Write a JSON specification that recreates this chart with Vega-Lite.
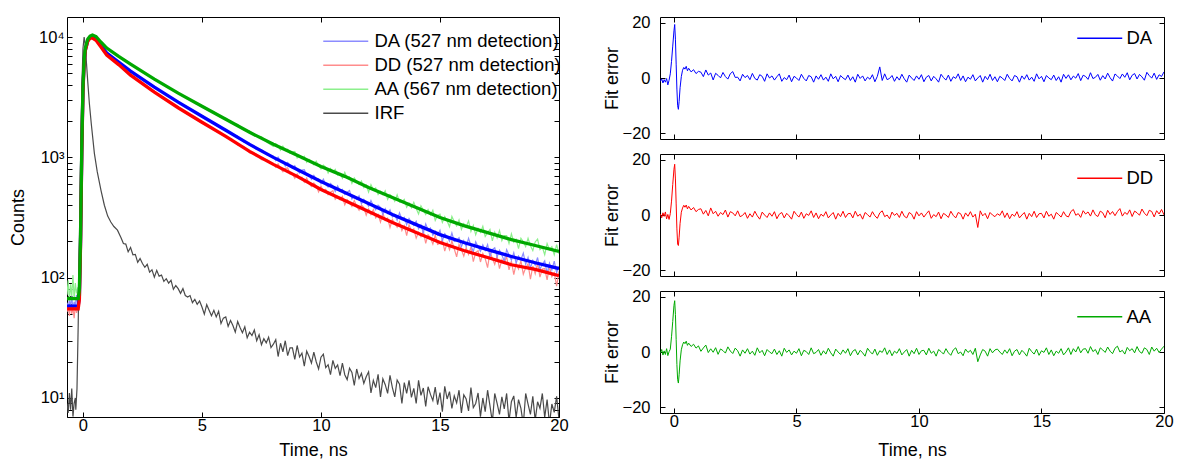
{
"$schema":"https://vega.github.io/schema/vega-lite/v6.json",
"background":"white",
"padding":{"left":8,"top":14,"right":0,"bottom":0},
"config":{
"font":"Liberation Sans",
"view":{"stroke":"#000000","strokeWidth":1},
"axis":{"domain":false,"grid":false,"tickColor":"#000","tickSize":-5,"tickWidth":1,"labelColor":"#000","labelFontSize":16.5,"titleColor":"#000","titleFontSize":18,"titleFontWeight":"normal","labelFlush":false,"labelOverlap":false},
"legend":{"title":null,"symbolType":"M-8,0H1","symbolSize":100,"symbolStrokeWidth":1.5,"labelFontSize":18.5,"labelColor":"#000","labelLimit":0,"rowPadding":5,"padding":0,"orient":"none"}
},
"datasets":{
"fit":[
{"s":"DA","t":-0.67,"v":58},{"s":"DA","t":-0.2,"v":58},{"s":"DA","t":-0.15,"v":70},{"s":"DA","t":-0.1,"v":200},{"s":"DA","t":-0.05,"v":1100},{"s":"DA","t":0,"v":3600},{"s":"DA","t":0.05,"v":6200},{"s":"DA","t":0.1,"v":7800},{"s":"DA","t":0.2,"v":9300},{"s":"DA","t":0.3,"v":9900},{"s":"DA","t":0.4,"v":10000},{"s":"DA","t":0.55,"v":9600},{"s":"DA","t":0.75,"v":8500},{"s":"DA","t":1,"v":7356},{"s":"DA","t":1.5,"v":6200},{"s":"DA","t":2,"v":5210},{"s":"DA","t":3,"v":3831},{"s":"DA","t":4,"v":2873},{"s":"DA","t":5,"v":2196},{"s":"DA","t":6,"v":1679},{"s":"DA","t":7,"v":1283},{"s":"DA","t":8,"v":1000},{"s":"DA","t":9,"v":794},{"s":"DA","t":10,"v":631},{"s":"DA","t":11,"v":511},{"s":"DA","t":12,"v":414},{"s":"DA","t":13,"v":335},{"s":"DA","t":14,"v":276},{"s":"DA","t":15,"v":228},{"s":"DA","t":16,"v":196},{"s":"DA","t":17,"v":171},{"s":"DA","t":18,"v":150},{"s":"DA","t":19,"v":133},{"s":"DA","t":20,"v":119},
{"s":"DD","t":-0.67,"v":55},{"s":"DD","t":-0.2,"v":55},{"s":"DD","t":-0.15,"v":66},{"s":"DD","t":-0.1,"v":190},{"s":"DD","t":-0.05,"v":1050},{"s":"DD","t":0,"v":3500},{"s":"DD","t":0.05,"v":6100},{"s":"DD","t":0.1,"v":7700},{"s":"DD","t":0.2,"v":9200},{"s":"DD","t":0.3,"v":9800},{"s":"DD","t":0.4,"v":9810},{"s":"DD","t":0.55,"v":9400},{"s":"DD","t":0.75,"v":8300},{"s":"DD","t":1,"v":7079},{"s":"DD","t":1.5,"v":5900},{"s":"DD","t":2,"v":4825},{"s":"DD","t":3,"v":3481},{"s":"DD","t":4,"v":2585},{"s":"DD","t":5,"v":1957},{"s":"DD","t":6,"v":1496},{"s":"DD","t":7,"v":1122},{"s":"DD","t":8,"v":874},{"s":"DD","t":9,"v":695},{"s":"DD","t":10,"v":541},{"s":"DD","t":11,"v":438},{"s":"DD","t":12,"v":355},{"s":"DD","t":13,"v":287},{"s":"DD","t":14,"v":237},{"s":"DD","t":15,"v":196},{"s":"DD","t":16,"v":168},{"s":"DD","t":17,"v":147},{"s":"DD","t":18,"v":128},{"s":"DD","t":19,"v":117},{"s":"DD","t":20,"v":104},
{"s":"AA","t":-0.67,"v":67},{"s":"AA","t":-0.2,"v":67},{"s":"AA","t":-0.15,"v":80},{"s":"AA","t":-0.1,"v":230},{"s":"AA","t":-0.05,"v":1200},{"s":"AA","t":0,"v":3800},{"s":"AA","t":0.05,"v":6500},{"s":"AA","t":0.1,"v":8100},{"s":"AA","t":0.2,"v":9600},{"s":"AA","t":0.3,"v":10200},{"s":"AA","t":0.4,"v":10390},{"s":"AA","t":0.55,"v":10100},{"s":"AA","t":0.75,"v":9100},{"s":"AA","t":1,"v":8095},{"s":"AA","t":1.5,"v":6900},{"s":"AA","t":2,"v":5957},{"s":"AA","t":3,"v":4467},{"s":"AA","t":4,"v":3415},{"s":"AA","t":5,"v":2661},{"s":"AA","t":6,"v":2073},{"s":"AA","t":7,"v":1616},{"s":"AA","t":8,"v":1283},{"s":"AA","t":9,"v":1039},{"s":"AA","t":10,"v":841},{"s":"AA","t":11,"v":695},{"s":"AA","t":12,"v":562},{"s":"AA","t":13,"v":464},{"s":"AA","t":14,"v":383},{"s":"AA","t":15,"v":316},{"s":"AA","t":16,"v":271},{"s":"AA","t":17,"v":237},{"s":"AA","t":18,"v":207},{"s":"AA","t":19,"v":185},{"s":"AA","t":20,"v":165}
],
"raw":[
{"s":"DD","t":-0.67,"v":52},{"s":"DD","t":-0.62,"v":58},{"s":"DD","t":-0.57,"v":48},{"s":"DD","t":-0.52,"v":60},{"s":"DD","t":-0.47,"v":50},{"s":"DD","t":-0.42,"v":56},{"s":"DD","t":-0.37,"v":46},{"s":"DD","t":-0.32,"v":59},{"s":"DD","t":-0.27,"v":51},{"s":"DD","t":-0.22,"v":55},
{"s":"DD","t":-0.15,"v":66},{"s":"DD","t":-0.1,"v":190},{"s":"DD","t":-0.05,"v":1050},{"s":"DD","t":0,"v":3500},{"s":"DD","t":0.05,"v":6100},{"s":"DD","t":0.1,"v":7700},{"s":"DD","t":0.2,"v":9200},{"s":"DD","t":0.3,"v":9800},{"s":"DD","t":0.4,"v":9810},{"s":"DD","t":0.55,"v":9400},{"s":"DD","t":0.75,"v":8300},{"s":"DD","t":1,"v":7079},{"s":"DD","t":1.5,"v":5900},{"s":"DD","t":2,"v":4825},{"s":"DD","t":3,"v":3481},{"s":"DD","t":4,"v":2585},
{"s":"DD","t":5,"v":1920},{"s":"DD","t":5.25,"v":1860},{"s":"DD","t":5.5,"v":1680},{"s":"DD","t":5.75,"v":1625},{"s":"DD","t":6,"v":1460},{"s":"DD","t":6.25,"v":1420},{"s":"DD","t":6.5,"v":1265},{"s":"DD","t":6.75,"v":1230},{"s":"DD","t":7,"v":1090},{"s":"DD","t":7.25,"v":1075},{"s":"DD","t":7.5,"v":955},{"s":"DD","t":7.75,"v":950},
{"s":"DD","t":8,"v":880},{"s":"DD","t":8.1,"v":828},{"s":"DD","t":8.2,"v":882},{"s":"DD","t":8.3,"v":809},{"s":"DD","t":8.4,"v":760},{"s":"DD","t":8.5,"v":811},{"s":"DD","t":8.6,"v":817},{"s":"DD","t":8.7,"v":730},{"s":"DD","t":8.8,"v":731},{"s":"DD","t":8.9,"v":671},
{"s":"DD","t":9,"v":729},{"s":"DD","t":9.1,"v":675},{"s":"DD","t":9.2,"v":683},{"s":"DD","t":9.3,"v":622},{"s":"DD","t":9.4,"v":673},{"s":"DD","t":9.5,"v":605},{"s":"DD","t":9.6,"v":573},{"s":"DD","t":9.7,"v":612},{"s":"DD","t":9.8,"v":580},{"s":"DD","t":9.9,"v":517},
{"s":"DD","t":10,"v":576},{"s":"DD","t":10.1,"v":523},{"s":"DD","t":10.2,"v":541},{"s":"DD","t":10.3,"v":490},{"s":"DD","t":10.4,"v":512},{"s":"DD","t":10.5,"v":529},{"s":"DD","t":10.6,"v":448},{"s":"DD","t":10.7,"v":473},{"s":"DD","t":10.8,"v":444},{"s":"DD","t":10.9,"v":473},
{"s":"DD","t":11,"v":403},{"s":"DD","t":11.1,"v":445},{"s":"DD","t":11.2,"v":421},{"s":"DD","t":11.3,"v":391},{"s":"DD","t":11.4,"v":438},{"s":"DD","t":11.5,"v":393},{"s":"DD","t":11.6,"v":364},{"s":"DD","t":11.7,"v":401},{"s":"DD","t":11.8,"v":382},{"s":"DD","t":11.9,"v":330},
{"s":"DD","t":12,"v":372},{"s":"DD","t":12.1,"v":335},{"s":"DD","t":12.2,"v":367},{"s":"DD","t":12.3,"v":314},{"s":"DD","t":12.4,"v":334},{"s":"DD","t":12.5,"v":289},{"s":"DD","t":12.6,"v":344},{"s":"DD","t":12.7,"v":299},{"s":"DD","t":12.8,"v":312},{"s":"DD","t":12.9,"v":261},
{"s":"DD","t":13,"v":304},{"s":"DD","t":13.1,"v":282},{"s":"DD","t":13.2,"v":263},{"s":"DD","t":13.3,"v":291},{"s":"DD","t":13.4,"v":246},{"s":"DD","t":13.5,"v":270},{"s":"DD","t":13.6,"v":224},{"s":"DD","t":13.7,"v":275},{"s":"DD","t":13.8,"v":244},{"s":"DD","t":13.9,"v":254},
{"s":"DD","t":14,"v":213},{"s":"DD","t":14.1,"v":238},{"s":"DD","t":14.2,"v":219},{"s":"DD","t":14.3,"v":245},{"s":"DD","t":14.4,"v":193},{"s":"DD","t":14.5,"v":227},{"s":"DD","t":14.6,"v":214},{"s":"DD","t":14.7,"v":190},{"s":"DD","t":14.8,"v":226},{"s":"DD","t":14.9,"v":189},
{"s":"DD","t":15,"v":193},{"s":"DD","t":15.1,"v":207},{"s":"DD","t":15.2,"v":166},{"s":"DD","t":15.3,"v":195},{"s":"DD","t":15.4,"v":171},{"s":"DD","t":15.5,"v":202},{"s":"DD","t":15.6,"v":173},{"s":"DD","t":15.7,"v":149},{"s":"DD","t":15.8,"v":189},{"s":"DD","t":15.9,"v":171},
{"s":"DD","t":16,"v":151},{"s":"DD","t":16.1,"v":177},{"s":"DD","t":16.2,"v":156},{"s":"DD","t":16.3,"v":179},{"s":"DD","t":16.4,"v":136},{"s":"DD","t":16.5,"v":162},{"s":"DD","t":16.6,"v":167},{"s":"DD","t":16.7,"v":135},{"s":"DD","t":16.8,"v":159},{"s":"DD","t":16.9,"v":144},
{"s":"DD","t":17,"v":121},{"s":"DD","t":17.1,"v":163},{"s":"DD","t":17.2,"v":145},{"s":"DD","t":17.3,"v":129},{"s":"DD","t":17.4,"v":152},{"s":"DD","t":17.5,"v":119},{"s":"DD","t":17.6,"v":141},{"s":"DD","t":17.7,"v":132},{"s":"DD","t":17.8,"v":150},{"s":"DD","t":17.9,"v":116},
{"s":"DD","t":18,"v":137},{"s":"DD","t":18.1,"v":106},{"s":"DD","t":18.2,"v":130},{"s":"DD","t":18.3,"v":118},{"s":"DD","t":18.4,"v":138},{"s":"DD","t":18.5,"v":107},{"s":"DD","t":18.6,"v":121},{"s":"DD","t":18.7,"v":130},{"s":"DD","t":18.8,"v":97},{"s":"DD","t":18.9,"v":125},
{"s":"DD","t":19,"v":108},{"s":"DD","t":19.1,"v":132},{"s":"DD","t":19.2,"v":101},{"s":"DD","t":19.3,"v":118},{"s":"DD","t":19.4,"v":119},{"s":"DD","t":19.5,"v":96},{"s":"DD","t":19.6,"v":124},{"s":"DD","t":19.7,"v":102},{"s":"DD","t":19.8,"v":110},{"s":"DD","t":19.9,"v":85},{"s":"DD","t":20,"v":113},
{"s":"DA","t":-0.67,"v":62},{"s":"DA","t":-0.62,"v":55},{"s":"DA","t":-0.57,"v":66},{"s":"DA","t":-0.52,"v":57},{"s":"DA","t":-0.47,"v":70},{"s":"DA","t":-0.42,"v":54},{"s":"DA","t":-0.37,"v":63},{"s":"DA","t":-0.32,"v":59},{"s":"DA","t":-0.27,"v":72},{"s":"DA","t":-0.22,"v":56},
{"s":"DA","t":-0.15,"v":70},{"s":"DA","t":-0.1,"v":200},{"s":"DA","t":-0.05,"v":1100},{"s":"DA","t":0,"v":3600},{"s":"DA","t":0.05,"v":6200},{"s":"DA","t":0.1,"v":7800},{"s":"DA","t":0.2,"v":9300},{"s":"DA","t":0.3,"v":9900},{"s":"DA","t":0.4,"v":10000},{"s":"DA","t":0.55,"v":9600},{"s":"DA","t":0.75,"v":8500},{"s":"DA","t":1,"v":7356},{"s":"DA","t":1.5,"v":6200},{"s":"DA","t":2,"v":5210},{"s":"DA","t":3,"v":3831},{"s":"DA","t":4,"v":2873},
{"s":"DA","t":5,"v":2230},{"s":"DA","t":5.25,"v":2040},{"s":"DA","t":5.5,"v":1950},{"s":"DA","t":5.75,"v":1770},{"s":"DA","t":6,"v":1710},{"s":"DA","t":6.25,"v":1550},{"s":"DA","t":6.5,"v":1500},{"s":"DA","t":6.75,"v":1345},{"s":"DA","t":7,"v":1310},{"s":"DA","t":7.25,"v":1180},{"s":"DA","t":7.5,"v":1160},{"s":"DA","t":7.75,"v":1040},
{"s":"DA","t":8,"v":1022},{"s":"DA","t":8.1,"v":941},{"s":"DA","t":8.2,"v":1006},{"s":"DA","t":8.3,"v":923},{"s":"DA","t":8.4,"v":928},{"s":"DA","t":8.5,"v":848},{"s":"DA","t":8.6,"v":905},{"s":"DA","t":8.7,"v":861},{"s":"DA","t":8.8,"v":812},{"s":"DA","t":8.9,"v":851},
{"s":"DA","t":9,"v":784},{"s":"DA","t":9.1,"v":741},{"s":"DA","t":9.2,"v":784},{"s":"DA","t":9.3,"v":790},{"s":"DA","t":9.4,"v":711},{"s":"DA","t":9.5,"v":713},{"s":"DA","t":9.6,"v":658},{"s":"DA","t":9.7,"v":709},{"s":"DA","t":9.8,"v":660},{"s":"DA","t":9.9,"v":663},
{"s":"DA","t":10,"v":604},{"s":"DA","t":10.1,"v":658},{"s":"DA","t":10.2,"v":594},{"s":"DA","t":10.3,"v":566},{"s":"DA","t":10.4,"v":607},{"s":"DA","t":10.5,"v":579},{"s":"DA","t":10.6,"v":520},{"s":"DA","t":10.7,"v":578},{"s":"DA","t":10.8,"v":528},{"s":"DA","t":10.9,"v":541},
{"s":"DA","t":11,"v":491},{"s":"DA","t":11.1,"v":513},{"s":"DA","t":11.2,"v":531},{"s":"DA","t":11.3,"v":451},{"s":"DA","t":11.4,"v":476},{"s":"DA","t":11.5,"v":448},{"s":"DA","t":11.6,"v":478},{"s":"DA","t":11.7,"v":411},{"s":"DA","t":11.8,"v":447},{"s":"DA","t":11.9,"v":424},
{"s":"DA","t":12,"v":393},{"s":"DA","t":12.1,"v":437},{"s":"DA","t":12.2,"v":395},{"s":"DA","t":12.3,"v":367},{"s":"DA","t":12.4,"v":401},{"s":"DA","t":12.5,"v":385},{"s":"DA","t":12.6,"v":336},{"s":"DA","t":12.7,"v":374},{"s":"DA","t":12.8,"v":342},{"s":"DA","t":12.9,"v":366},
{"s":"DA","t":13,"v":320},{"s":"DA","t":13.1,"v":335},{"s":"DA","t":13.2,"v":300},{"s":"DA","t":13.3,"v":346},{"s":"DA","t":13.4,"v":305},{"s":"DA","t":13.5,"v":317},{"s":"DA","t":13.6,"v":276},{"s":"DA","t":13.7,"v":310},{"s":"DA","t":13.8,"v":288},{"s":"DA","t":13.9,"v":272},
{"s":"DA","t":14,"v":295},{"s":"DA","t":14.1,"v":255},{"s":"DA","t":14.2,"v":274},{"s":"DA","t":14.3,"v":236},{"s":"DA","t":14.4,"v":280},{"s":"DA","t":14.5,"v":249},{"s":"DA","t":14.6,"v":259},{"s":"DA","t":14.7,"v":225},{"s":"DA","t":14.8,"v":243},{"s":"DA","t":14.9,"v":226},
{"s":"DA","t":15,"v":248},{"s":"DA","t":15.1,"v":203},{"s":"DA","t":15.2,"v":232},{"s":"DA","t":15.3,"v":220},{"s":"DA","t":15.4,"v":201},{"s":"DA","t":15.5,"v":235},{"s":"DA","t":15.6,"v":200},{"s":"DA","t":15.7,"v":204},{"s":"DA","t":15.8,"v":215},{"s":"DA","t":15.9,"v":181},
{"s":"DA","t":16,"v":203},{"s":"DA","t":16.1,"v":182},{"s":"DA","t":16.2,"v":212},{"s":"DA","t":16.3,"v":184},{"s":"DA","t":16.4,"v":164},{"s":"DA","t":16.5,"v":199},{"s":"DA","t":16.6,"v":181},{"s":"DA","t":16.7,"v":166},{"s":"DA","t":16.8,"v":187},{"s":"DA","t":16.9,"v":168},
{"s":"DA","t":17,"v":188},{"s":"DA","t":17.1,"v":150},{"s":"DA","t":17.2,"v":171},{"s":"DA","t":17.3,"v":177},{"s":"DA","t":17.4,"v":149},{"s":"DA","t":17.5,"v":169},{"s":"DA","t":17.6,"v":154},{"s":"DA","t":17.7,"v":137},{"s":"DA","t":17.8,"v":171},{"s":"DA","t":17.9,"v":154},
{"s":"DA","t":18,"v":140},{"s":"DA","t":18.1,"v":161},{"s":"DA","t":18.2,"v":132},{"s":"DA","t":18.3,"v":151},{"s":"DA","t":18.4,"v":141},{"s":"DA","t":18.5,"v":160},{"s":"DA","t":18.6,"v":129},{"s":"DA","t":18.7,"v":147},{"s":"DA","t":18.8,"v":120},{"s":"DA","t":18.9,"v":139},
{"s":"DA","t":19,"v":127},{"s":"DA","t":19.1,"v":147},{"s":"DA","t":19.2,"v":117},{"s":"DA","t":19.3,"v":129},{"s":"DA","t":19.4,"v":138},{"s":"DA","t":19.5,"v":108},{"s":"DA","t":19.6,"v":132},{"s":"DA","t":19.7,"v":116},{"s":"DA","t":19.8,"v":137},{"s":"DA","t":19.9,"v":110},{"s":"DA","t":20,"v":124},
{"s":"AA","t":-0.67,"v":72},{"s":"AA","t":-0.62,"v":95},{"s":"AA","t":-0.57,"v":64},{"s":"AA","t":-0.52,"v":88},{"s":"AA","t":-0.47,"v":70},{"s":"AA","t":-0.42,"v":105},{"s":"AA","t":-0.37,"v":66},{"s":"AA","t":-0.32,"v":90},{"s":"AA","t":-0.27,"v":74},{"s":"AA","t":-0.22,"v":82},
{"s":"AA","t":-0.15,"v":80},{"s":"AA","t":-0.1,"v":230},{"s":"AA","t":-0.05,"v":1200},{"s":"AA","t":0,"v":3800},{"s":"AA","t":0.05,"v":6500},{"s":"AA","t":0.1,"v":8100},{"s":"AA","t":0.2,"v":9600},{"s":"AA","t":0.3,"v":10200},{"s":"AA","t":0.4,"v":10390},{"s":"AA","t":0.55,"v":10100},{"s":"AA","t":0.75,"v":9100},{"s":"AA","t":1,"v":8095},{"s":"AA","t":1.5,"v":6900},{"s":"AA","t":2,"v":5957},{"s":"AA","t":3,"v":4467},{"s":"AA","t":4,"v":3415},
{"s":"AA","t":5,"v":2700},{"s":"AA","t":5.25,"v":2460},{"s":"AA","t":5.5,"v":2400},{"s":"AA","t":5.75,"v":2170},{"s":"AA","t":6,"v":2120},{"s":"AA","t":6.25,"v":1910},{"s":"AA","t":6.5,"v":1880},{"s":"AA","t":6.75,"v":1690},{"s":"AA","t":7,"v":1660},{"s":"AA","t":7.25,"v":1500},{"s":"AA","t":7.5,"v":1490},{"s":"AA","t":7.75,"v":1330},
{"s":"AA","t":8,"v":1234},{"s":"AA","t":8.1,"v":1301},{"s":"AA","t":8.2,"v":1248},{"s":"AA","t":8.3,"v":1143},{"s":"AA","t":8.4,"v":1237},{"s":"AA","t":8.5,"v":1148},{"s":"AA","t":8.6,"v":1168},{"s":"AA","t":8.7,"v":1081},{"s":"AA","t":8.8,"v":1106},{"s":"AA","t":8.9,"v":1121},
{"s":"AA","t":9,"v":989},{"s":"AA","t":9.1,"v":1025},{"s":"AA","t":9.2,"v":975},{"s":"AA","t":9.3,"v":1021},{"s":"AA","t":9.4,"v":908},{"s":"AA","t":9.5,"v":963},{"s":"AA","t":9.6,"v":920},{"s":"AA","t":9.7,"v":868},{"s":"AA","t":9.8,"v":928},{"s":"AA","t":9.9,"v":856},
{"s":"AA","t":10,"v":800},{"s":"AA","t":10.1,"v":861},{"s":"AA","t":10.2,"v":829},{"s":"AA","t":10.3,"v":741},{"s":"AA","t":10.4,"v":810},{"s":"AA","t":10.5,"v":752},{"s":"AA","t":10.6,"v":795},{"s":"AA","t":10.7,"v":713},{"s":"AA","t":10.8,"v":734},{"s":"AA","t":10.9,"v":670},
{"s":"AA","t":11,"v":751},{"s":"AA","t":11.1,"v":671},{"s":"AA","t":11.2,"v":689},{"s":"AA","t":11.3,"v":608},{"s":"AA","t":11.4,"v":673},{"s":"AA","t":11.5,"v":629},{"s":"AA","t":11.6,"v":595},{"s":"AA","t":11.7,"v":636},{"s":"AA","t":11.8,"v":561},{"s":"AA","t":11.9,"v":589},
{"s":"AA","t":12,"v":514},{"s":"AA","t":12.1,"v":594},{"s":"AA","t":12.2,"v":537},{"s":"AA","t":12.3,"v":556},{"s":"AA","t":12.4,"v":492},{"s":"AA","t":12.5,"v":522},{"s":"AA","t":12.6,"v":490},{"s":"AA","t":12.7,"v":527},{"s":"AA","t":12.8,"v":447},{"s":"AA","t":12.9,"v":490},
{"s":"AA","t":13,"v":468},{"s":"AA","t":13.1,"v":431},{"s":"AA","t":13.2,"v":488},{"s":"AA","t":13.3,"v":424},{"s":"AA","t":13.4,"v":428},{"s":"AA","t":13.5,"v":447},{"s":"AA","t":13.6,"v":385},{"s":"AA","t":13.7,"v":418},{"s":"AA","t":13.8,"v":381},{"s":"AA","t":13.9,"v":423},
{"s":"AA","t":14,"v":375},{"s":"AA","t":14.1,"v":338},{"s":"AA","t":14.2,"v":396},{"s":"AA","t":14.3,"v":363},{"s":"AA","t":14.4,"v":335},{"s":"AA","t":14.5,"v":368},{"s":"AA","t":14.6,"v":333},{"s":"AA","t":14.7,"v":363},{"s":"AA","t":14.8,"v":299},{"s":"AA","t":14.9,"v":329},
{"s":"AA","t":15,"v":337},{"s":"AA","t":15.1,"v":288},{"s":"AA","t":15.2,"v":321},{"s":"AA","t":15.3,"v":296},{"s":"AA","t":15.4,"v":265},{"s":"AA","t":15.5,"v":323},{"s":"AA","t":15.6,"v":292},{"s":"AA","t":15.7,"v":269},{"s":"AA","t":15.8,"v":302},{"s":"AA","t":15.9,"v":252},
{"s":"AA","t":16,"v":281},{"s":"AA","t":16.1,"v":265},{"s":"AA","t":16.2,"v":296},{"s":"AA","t":16.3,"v":242},{"s":"AA","t":16.4,"v":272},{"s":"AA","t":16.5,"v":227},{"s":"AA","t":16.6,"v":257},{"s":"AA","t":16.7,"v":238},{"s":"AA","t":16.8,"v":267},{"s":"AA","t":16.9,"v":220},
{"s":"AA","t":17,"v":237},{"s":"AA","t":17.1,"v":252},{"s":"AA","t":17.2,"v":202},{"s":"AA","t":17.3,"v":239},{"s":"AA","t":17.4,"v":214},{"s":"AA","t":17.5,"v":247},{"s":"AA","t":17.6,"v":203},{"s":"AA","t":17.7,"v":224},{"s":"AA","t":17.8,"v":224},{"s":"AA","t":17.9,"v":192},
{"s":"AA","t":18,"v":231},{"s":"AA","t":18.1,"v":197},{"s":"AA","t":18.2,"v":208},{"s":"AA","t":18.3,"v":174},{"s":"AA","t":18.4,"v":213},{"s":"AA","t":18.5,"v":199},{"s":"AA","t":18.6,"v":181},{"s":"AA","t":18.7,"v":212},{"s":"AA","t":18.8,"v":184},{"s":"AA","t":18.9,"v":168},
{"s":"AA","t":19,"v":198},{"s":"AA","t":19.1,"v":209},{"s":"AA","t":19.2,"v":171},{"s":"AA","t":19.3,"v":179},{"s":"AA","t":19.4,"v":155},{"s":"AA","t":19.5,"v":192},{"s":"AA","t":19.6,"v":171},{"s":"AA","t":19.7,"v":181},{"s":"AA","t":19.8,"v":155},{"s":"AA","t":19.9,"v":188},{"s":"AA","t":20,"v":158},
{"s":"IRF","t":-0.67,"v":9},{"s":"IRF","t":-0.62,"v":7.5},{"s":"IRF","t":-0.57,"v":11},{"s":"IRF","t":-0.52,"v":8},{"s":"IRF","t":-0.47,"v":12},{"s":"IRF","t":-0.42,"v":7},{"s":"IRF","t":-0.37,"v":9},{"s":"IRF","t":-0.32,"v":10},{"s":"IRF","t":-0.3,"v":8},{"s":"IRF","t":-0.25,"v":12},{"s":"IRF","t":-0.2,"v":40},{"s":"IRF","t":-0.15,"v":200},{"s":"IRF","t":-0.1,"v":900},{"s":"IRF","t":-0.05,"v":3500},{"s":"IRF","t":0,"v":8000},{"s":"IRF","t":0.05,"v":10000},{"s":"IRF","t":0.1,"v":8500},{"s":"IRF","t":0.15,"v":6000},{"s":"IRF","t":0.2,"v":4300},{"s":"IRF","t":0.27,"v":2800},{"s":"IRF","t":0.35,"v":1900},{"s":"IRF","t":0.48,"v":1080},{"s":"IRF","t":0.6,"v":760},{"s":"IRF","t":0.76,"v":530},{"s":"IRF","t":0.9,"v":400},{"s":"IRF","t":1.04,"v":325},{"s":"IRF","t":1.17,"v":290},{"s":"IRF","t":1.3,"v":266},{"s":"IRF","t":1.45,"v":248},{"s":"IRF","t":1.6,"v":215},
{"s":"IRF","t":1.7,"v":192},{"s":"IRF","t":1.8,"v":190},{"s":"IRF","t":1.9,"v":164},{"s":"IRF","t":2,"v":178},{"s":"IRF","t":2.1,"v":155},{"s":"IRF","t":2.2,"v":156},{"s":"IRF","t":2.3,"v":134},{"s":"IRF","t":2.4,"v":144},{"s":"IRF","t":2.5,"v":131},{"s":"IRF","t":2.6,"v":122},{"s":"IRF","t":2.7,"v":129},{"s":"IRF","t":2.8,"v":111},{"s":"IRF","t":2.9,"v":116},{"s":"IRF","t":3,"v":101},{"s":"IRF","t":3.1,"v":115},{"s":"IRF","t":3.2,"v":103},{"s":"IRF","t":3.3,"v":105},{"s":"IRF","t":3.4,"v":93},{"s":"IRF","t":3.5,"v":98},{"s":"IRF","t":3.6,"v":90},{"s":"IRF","t":3.7,"v":95},{"s":"IRF","t":3.8,"v":80},{"s":"IRF","t":3.9,"v":86},{"s":"IRF","t":4,"v":81},{"s":"IRF","t":4.1,"v":74},{"s":"IRF","t":4.2,"v":81},{"s":"IRF","t":4.3,"v":71},{"s":"IRF","t":4.4,"v":69},{"s":"IRF","t":4.5,"v":71},{"s":"IRF","t":4.6,"v":62},{"s":"IRF","t":4.7,"v":66},{"s":"IRF","t":4.8,"v":60},{"s":"IRF","t":4.9,"v":64},{"s":"IRF","t":5,"v":57},
{"s":"IRF","t":5.1,"v":49.7},{"s":"IRF","t":5.2,"v":59.6},{"s":"IRF","t":5.3,"v":53.5},{"s":"IRF","t":5.4,"v":48.3},{"s":"IRF","t":5.5,"v":53.5},{"s":"IRF","t":5.6,"v":47.2},{"s":"IRF","t":5.7,"v":52.6},{"s":"IRF","t":5.8,"v":41.5},{"s":"IRF","t":5.9,"v":46.1},{"s":"IRF","t":6,"v":47.2},{"s":"IRF","t":6.1,"v":39.4},{"s":"IRF","t":6.2,"v":44},{"s":"IRF","t":6.3,"v":40},{"s":"IRF","t":6.4,"v":35.2},{"s":"IRF","t":6.5,"v":43.2},{"s":"IRF","t":6.6,"v":38.5},{"s":"IRF","t":6.7,"v":34.8},{"s":"IRF","t":6.8,"v":39},{"s":"IRF","t":6.9,"v":31.6},{"s":"IRF","t":7,"v":35.2},{"s":"IRF","t":7.1,"v":33},{"s":"IRF","t":7.2,"v":36.7},{"s":"IRF","t":7.3,"v":29.9},{"s":"IRF","t":7.4,"v":33.5},{"s":"IRF","t":7.5,"v":27.7},{"s":"IRF","t":7.6,"v":31.1},{"s":"IRF","t":7.7,"v":28.7},{"s":"IRF","t":7.8,"v":32},{"s":"IRF","t":7.9,"v":26.2},{"s":"IRF","t":8,"v":28},
{"s":"IRF","t":8.1,"v":30.5},{"s":"IRF","t":8.2,"v":22.1},{"s":"IRF","t":8.3,"v":28.5},{"s":"IRF","t":8.4,"v":24.2},{"s":"IRF","t":8.5,"v":29.9},{"s":"IRF","t":8.6,"v":22.5},{"s":"IRF","t":8.7,"v":26.1},{"s":"IRF","t":8.8,"v":26.1},{"s":"IRF","t":8.9,"v":20.9},{"s":"IRF","t":9,"v":27.3},{"s":"IRF","t":9.1,"v":21.9},{"s":"IRF","t":9.2,"v":23.6},{"s":"IRF","t":9.3,"v":18.4},{"s":"IRF","t":9.4,"v":24.5},{"s":"IRF","t":9.5,"v":22.1},{"s":"IRF","t":9.6,"v":19.5},{"s":"IRF","t":9.7,"v":24},{"s":"IRF","t":9.8,"v":20},{"s":"IRF","t":9.9,"v":17.4},{"s":"IRF","t":10,"v":21.8},{"s":"IRF","t":10.1,"v":23.1},{"s":"IRF","t":10.2,"v":17.9},{"s":"IRF","t":10.3,"v":18.9},{"s":"IRF","t":10.4,"v":15.6},{"s":"IRF","t":10.5,"v":20.5},{"s":"IRF","t":10.6,"v":17.6},{"s":"IRF","t":10.7,"v":18.8},{"s":"IRF","t":10.8,"v":15.3},{"s":"IRF","t":10.9,"v":19.5},{"s":"IRF","t":11,"v":15.6},{"s":"IRF","t":11.1,"v":14.2},{"s":"IRF","t":11.2,"v":17.7},{"s":"IRF","t":11.3,"v":16.3},{"s":"IRF","t":11.4,"v":12.7},{"s":"IRF","t":11.5,"v":17.4},{"s":"IRF","t":11.6,"v":14.5},{"s":"IRF","t":11.7,"v":16},{"s":"IRF","t":11.8,"v":13.2},{"s":"IRF","t":11.9,"v":15},{"s":"IRF","t":12,"v":16.5},
{"s":"IRF","t":12.1,"v":11},{"s":"IRF","t":12.2,"v":14},{"s":"IRF","t":12.3,"v":12.2},{"s":"IRF","t":12.4,"v":15.7},{"s":"IRF","t":12.5,"v":10.2},{"s":"IRF","t":12.6,"v":14.4},{"s":"IRF","t":12.7,"v":12.9},{"s":"IRF","t":12.8,"v":10.9},{"s":"IRF","t":12.9,"v":15.4},{"s":"IRF","t":13,"v":12.2},{"s":"IRF","t":13.1,"v":10.2},{"s":"IRF","t":13.2,"v":14.1},{"s":"IRF","t":13.3,"v":13},{"s":"IRF","t":13.4,"v":9},{"s":"IRF","t":13.5,"v":13.4},{"s":"IRF","t":13.6,"v":10.9},{"s":"IRF","t":13.7,"v":14},{"s":"IRF","t":13.8,"v":10.1},{"s":"IRF","t":13.9,"v":12},{"s":"IRF","t":14,"v":9},{"s":"IRF","t":14.1,"v":14},{"s":"IRF","t":14.2,"v":10.5},{"s":"IRF","t":14.3,"v":12.1},{"s":"IRF","t":14.4,"v":8.5},{"s":"IRF","t":14.5,"v":12.4},{"s":"IRF","t":14.6,"v":10.7},{"s":"IRF","t":14.7,"v":9.5},{"s":"IRF","t":14.8,"v":12.3},{"s":"IRF","t":14.9,"v":8.8},{"s":"IRF","t":15,"v":11.1},{"s":"IRF","t":15.1,"v":7.7},{"s":"IRF","t":15.2,"v":12.5},{"s":"IRF","t":15.3,"v":9.8},{"s":"IRF","t":15.4,"v":11.3},{"s":"IRF","t":15.5,"v":8.2},{"s":"IRF","t":15.6,"v":10.4},{"s":"IRF","t":15.7,"v":9.1},{"s":"IRF","t":15.8,"v":11.6},{"s":"IRF","t":15.9,"v":7.5},{"s":"IRF","t":16,"v":10.6},
{"s":"IRF","t":16.1,"v":9.8},{"s":"IRF","t":16.2,"v":7.8},{"s":"IRF","t":16.3,"v":12.2},{"s":"IRF","t":16.4,"v":8.3},{"s":"IRF","t":16.5,"v":9},{"s":"IRF","t":16.6,"v":11},{"s":"IRF","t":16.7,"v":7},{"s":"IRF","t":16.8,"v":10},{"s":"IRF","t":16.9,"v":7.7},{"s":"IRF","t":17,"v":11.6},{"s":"IRF","t":17.1,"v":8.6},{"s":"IRF","t":17.2,"v":6.3},{"s":"IRF","t":17.3,"v":10.9},{"s":"IRF","t":17.4,"v":9},{"s":"IRF","t":17.5,"v":7.3},{"s":"IRF","t":17.6,"v":10.2},{"s":"IRF","t":17.7,"v":8.1},{"s":"IRF","t":17.8,"v":10.9},{"s":"IRF","t":17.9,"v":6.4},{"s":"IRF","t":18,"v":9.3},{"s":"IRF","t":18.1,"v":10.4},{"s":"IRF","t":18.2,"v":6.9},{"s":"IRF","t":18.3,"v":9.7},{"s":"IRF","t":18.4,"v":8.2},{"s":"IRF","t":18.5,"v":6},{"s":"IRF","t":18.6,"v":10.9},{"s":"IRF","t":18.7,"v":8.9},{"s":"IRF","t":18.8,"v":7.3},{"s":"IRF","t":18.9,"v":10.3},{"s":"IRF","t":19,"v":6.5},{"s":"IRF","t":19.1,"v":9.3},{"s":"IRF","t":19.2,"v":8.2},{"s":"IRF","t":19.3,"v":10.9},{"s":"IRF","t":19.4,"v":6.9},{"s":"IRF","t":19.5,"v":9.7},{"s":"IRF","t":19.6,"v":6.1},{"s":"IRF","t":19.7,"v":8.9},{"s":"IRF","t":19.8,"v":7.6},{"s":"IRF","t":19.9,"v":10.3},{"s":"IRF","t":20,"v":6.6}
],
"res":[
{"s":"DA","t":-0.55,"e":-1.2},{"s":"DA","t":-0.5,"e":-0.3},{"s":"DA","t":-0.45,"e":-1.8},{"s":"DA","t":-0.4,"e":-0.6},{"s":"DA","t":-0.35,"e":-1.5},{"s":"DA","t":-0.3,"e":-0.2},{"s":"DA","t":-0.25,"e":-2.5},{"s":"DA","t":-0.2,"e":-0.8},{"s":"DA","t":-0.15,"e":1.5},{"s":"DA","t":-0.1,"e":6},{"s":"DA","t":-0.05,"e":11.5},{"s":"DA","t":0,"e":17},{"s":"DA","t":0.03,"e":19.3},{"s":"DA","t":0.06,"e":14},{"s":"DA","t":0.09,"e":5},{"s":"DA","t":0.12,"e":-4},{"s":"DA","t":0.15,"e":-10},{"s":"DA","t":0.18,"e":-11.3},{"s":"DA","t":0.21,"e":-8.5},{"s":"DA","t":0.25,"e":-3.5},{"s":"DA","t":0.3,"e":0.5},{"s":"DA","t":0.35,"e":2.8},{"s":"DA","t":0.4,"e":3.8},{"s":"DA","t":0.45,"e":3.2},{"s":"DA","t":0.5,"e":4.2},{"s":"DA","t":0.55,"e":2.6},{"s":"DA","t":0.6,"e":3.5},{"s":"DA","t":0.7,"e":2.2},{"s":"DA","t":0.8,"e":3},{"s":"DA","t":0.9,"e":1.6},{"s":"DA","t":1,"e":2.4},
{"s":"DA","t":1.1,"e":2.1},{"s":"DA","t":1.2,"e":0.5},{"s":"DA","t":1.3,"e":2.9},{"s":"DA","t":1.4,"e":1.05},{"s":"DA","t":1.5,"e":1.8},{"s":"DA","t":1.6,"e":-0.7},{"s":"DA","t":1.7,"e":1.7},{"s":"DA","t":1.8,"e":0.95},{"s":"DA","t":1.9,"e":0.05},{"s":"DA","t":2,"e":2},{"s":"DA","t":2.1,"e":0.5},{"s":"DA","t":2.2,"e":-0.4},{"s":"DA","t":2.3,"e":1.55},{"s":"DA","t":2.4,"e":2.3},{"s":"DA","t":2.5,"e":0.2},{"s":"DA","t":2.6,"e":0.3},{"s":"DA","t":2.7,"e":-1.05},{"s":"DA","t":2.8,"e":1.35},{"s":"DA","t":2.9,"e":0.15},{"s":"DA","t":3,"e":0.9},{"s":"DA","t":3.1,"e":-0.6},{"s":"DA","t":3.2,"e":1.65},{"s":"DA","t":3.3,"e":-0.15},{"s":"DA","t":3.4,"e":-0.75},{"s":"DA","t":3.5,"e":1.2},{"s":"DA","t":3.6,"e":0.6},{"s":"DA","t":3.7,"e":-1.2},{"s":"DA","t":3.8,"e":1.5},{"s":"DA","t":3.9,"e":0},{"s":"DA","t":4,"e":0.75},
{"s":"DA","t":4.1,"e":-0.75},{"s":"DA","t":4.2,"e":0.45},{"s":"DA","t":4.3,"e":1.5},{"s":"DA","t":4.4,"e":-1.2},{"s":"DA","t":4.5,"e":0.15},{"s":"DA","t":4.6,"e":-0.6},{"s":"DA","t":4.7,"e":1.05},{"s":"DA","t":4.8,"e":-1.35},{"s":"DA","t":4.9,"e":0.6},{"s":"DA","t":5,"e":0},{"s":"DA","t":5.1,"e":-0.9},{"s":"DA","t":5.2,"e":1.35},{"s":"DA","t":5.3,"e":-0.15},{"s":"DA","t":5.4,"e":-1.05},{"s":"DA","t":5.5,"e":0.9},{"s":"DA","t":5.6,"e":0.45},{"s":"DA","t":5.7,"e":-1.5},{"s":"DA","t":5.8,"e":0.75},{"s":"DA","t":5.9,"e":-0.45},{"s":"DA","t":6,"e":1.2},{"s":"DA","t":6.1,"e":-0.75},{"s":"DA","t":6.2,"e":0.3},{"s":"DA","t":6.3,"e":-1.2},{"s":"DA","t":6.4,"e":1.5},{"s":"DA","t":6.5,"e":-0.3},{"s":"DA","t":6.6,"e":0.6},{"s":"DA","t":6.7,"e":-1.35},{"s":"DA","t":6.8,"e":0.9},{"s":"DA","t":6.9,"e":0},{"s":"DA","t":7,"e":-0.6},
{"s":"DA","t":7.1,"e":1.05},{"s":"DA","t":7.2,"e":-0.9},{"s":"DA","t":7.3,"e":0.45},{"s":"DA","t":7.4,"e":-1.5},{"s":"DA","t":7.5,"e":1.35},{"s":"DA","t":7.6,"e":-0.15},{"s":"DA","t":7.7,"e":0.75},{"s":"DA","t":7.8,"e":-1.05},{"s":"DA","t":7.9,"e":0.3},{"s":"DA","t":8,"e":-0.45},{"s":"DA","t":8.1,"e":1.2},{"s":"DA","t":8.2,"e":-1.35},{"s":"DA","t":8.3,"e":0.6},{"s":"DA","t":8.4,"e":4},{"s":"DA","t":8.5,"e":-0.9},{"s":"DA","t":8.6,"e":1.5},{"s":"DA","t":8.7,"e":-0.6},{"s":"DA","t":8.8,"e":-0.15},{"s":"DA","t":8.9,"e":0.9},{"s":"DA","t":9,"e":-1.2},{"s":"DA","t":9.1,"e":0.45},{"s":"DA","t":9.2,"e":-0.75},{"s":"DA","t":9.3,"e":1.35},{"s":"DA","t":9.4,"e":-0.3},{"s":"DA","t":9.5,"e":-1.5},{"s":"DA","t":9.6,"e":1.05},{"s":"DA","t":9.7,"e":0},{"s":"DA","t":9.8,"e":-0.9},{"s":"DA","t":9.9,"e":0.75},{"s":"DA","t":10,"e":-0.45},
{"s":"DA","t":10.1,"e":1.2},{"s":"DA","t":10.2,"e":-1.35},{"s":"DA","t":10.3,"e":0.3},{"s":"DA","t":10.4,"e":0.9},{"s":"DA","t":10.5,"e":-1.05},{"s":"DA","t":10.6,"e":0.6},{"s":"DA","t":10.7,"e":-0.3},{"s":"DA","t":10.8,"e":-1.5},{"s":"DA","t":10.9,"e":1.35},{"s":"DA","t":11,"e":0.15},{"s":"DA","t":11.1,"e":-0.75},{"s":"DA","t":11.2,"e":1.05},{"s":"DA","t":11.3,"e":-1.2},{"s":"DA","t":11.4,"e":0.45},{"s":"DA","t":11.5,"e":-0.15},{"s":"DA","t":11.6,"e":1.5},{"s":"DA","t":11.7,"e":-0.9},{"s":"DA","t":11.8,"e":0.75},{"s":"DA","t":11.9,"e":-1.35},{"s":"DA","t":12,"e":0.3},{"s":"DA","t":12.1,"e":-0.45},{"s":"DA","t":12.2,"e":1.2},{"s":"DA","t":12.3,"e":-1.05},{"s":"DA","t":12.4,"e":0},{"s":"DA","t":12.5,"e":0.9},{"s":"DA","t":12.6,"e":-1.5},{"s":"DA","t":12.7,"e":0.6},{"s":"DA","t":12.8,"e":-0.6},{"s":"DA","t":12.9,"e":1.35},{"s":"DA","t":13,"e":-0.9},
{"s":"DA","t":13.1,"e":0.45},{"s":"DA","t":13.2,"e":-1.35},{"s":"DA","t":13.3,"e":0.6},{"s":"DA","t":13.4,"e":0},{"s":"DA","t":13.5,"e":-0.9},{"s":"DA","t":13.6,"e":1.35},{"s":"DA","t":13.7,"e":-0.15},{"s":"DA","t":13.8,"e":-1.05},{"s":"DA","t":13.9,"e":0.9},{"s":"DA","t":14,"e":0.45},{"s":"DA","t":14.1,"e":-1.5},{"s":"DA","t":14.2,"e":0.75},{"s":"DA","t":14.3,"e":-0.45},{"s":"DA","t":14.4,"e":1.2},{"s":"DA","t":14.5,"e":-0.75},{"s":"DA","t":14.6,"e":0.3},{"s":"DA","t":14.7,"e":-1.2},{"s":"DA","t":14.8,"e":1.5},{"s":"DA","t":14.9,"e":-0.3},{"s":"DA","t":15,"e":0.6},{"s":"DA","t":15.1,"e":-1.35},{"s":"DA","t":15.2,"e":0.9},{"s":"DA","t":15.3,"e":0},{"s":"DA","t":15.4,"e":-0.6},{"s":"DA","t":15.5,"e":1.05},{"s":"DA","t":15.6,"e":-0.9},{"s":"DA","t":15.7,"e":0.45},{"s":"DA","t":15.8,"e":-1.5},{"s":"DA","t":15.9,"e":1.35},{"s":"DA","t":16,"e":-0.15},
{"s":"DA","t":16.1,"e":1.15},{"s":"DA","t":16.2,"e":-0.65},{"s":"DA","t":16.3,"e":0.7},{"s":"DA","t":16.4,"e":-0.05},{"s":"DA","t":16.5,"e":1.6},{"s":"DA","t":16.6,"e":-0.95},{"s":"DA","t":16.7,"e":1},{"s":"DA","t":16.8,"e":0.55},{"s":"DA","t":16.9,"e":-0.5},{"s":"DA","t":17,"e":1.9},{"s":"DA","t":17.1,"e":-0.2},{"s":"DA","t":17.2,"e":0.25},{"s":"DA","t":17.3,"e":1.3},{"s":"DA","t":17.4,"e":-0.8},{"s":"DA","t":17.5,"e":0.85},{"s":"DA","t":17.6,"e":-0.35},{"s":"DA","t":17.7,"e":1.75},{"s":"DA","t":17.8,"e":0.1},{"s":"DA","t":17.9,"e":-1.1},{"s":"DA","t":18,"e":1.45},{"s":"DA","t":18.1,"e":0.7},{"s":"DA","t":18.2,"e":-0.2},{"s":"DA","t":18.3,"e":1.45},{"s":"DA","t":18.4,"e":0.25},{"s":"DA","t":18.5,"e":1.9},{"s":"DA","t":18.6,"e":-0.65},{"s":"DA","t":18.7,"e":1},{"s":"DA","t":18.8,"e":1.6},{"s":"DA","t":18.9,"e":-0.35},{"s":"DA","t":19,"e":1.3},{"s":"DA","t":19.1,"e":0.4},{"s":"DA","t":19.2,"e":-0.8},{"s":"DA","t":19.3,"e":2.05},{"s":"DA","t":19.4,"e":0.85},{"s":"DA","t":19.5,"e":-0.05},{"s":"DA","t":19.6,"e":1.75},{"s":"DA","t":19.7,"e":-0.5},{"s":"DA","t":19.8,"e":1.15},{"s":"DA","t":19.9,"e":0.55},{"s":"DA","t":20,"e":2.2},
{"s":"DD","t":-0.55,"e":0.3},{"s":"DD","t":-0.5,"e":-1},{"s":"DD","t":-0.45,"e":0.8},{"s":"DD","t":-0.4,"e":-0.5},{"s":"DD","t":-0.35,"e":1.1},{"s":"DD","t":-0.3,"e":-1.4},{"s":"DD","t":-0.25,"e":0.2},{"s":"DD","t":-0.2,"e":-1.6},{"s":"DD","t":-0.15,"e":0.5},{"s":"DD","t":-0.1,"e":5},{"s":"DD","t":-0.05,"e":11},{"s":"DD","t":0,"e":16.5},{"s":"DD","t":0.03,"e":18.3},{"s":"DD","t":0.06,"e":13},{"s":"DD","t":0.09,"e":4},{"s":"DD","t":0.12,"e":-5},{"s":"DD","t":0.15,"e":-10.5},{"s":"DD","t":0.18,"e":-11},{"s":"DD","t":0.21,"e":-8},{"s":"DD","t":0.25,"e":-3},{"s":"DD","t":0.3,"e":1},{"s":"DD","t":0.35,"e":2.5},{"s":"DD","t":0.4,"e":3.5},{"s":"DD","t":0.45,"e":2.8},{"s":"DD","t":0.5,"e":3.6},{"s":"DD","t":0.55,"e":2.2},{"s":"DD","t":0.6,"e":3.1},{"s":"DD","t":0.7,"e":1.8},{"s":"DD","t":0.8,"e":2.7},{"s":"DD","t":0.9,"e":1.2},{"s":"DD","t":1,"e":2},
{"s":"DD","t":1.1,"e":2.25},{"s":"DD","t":1.2,"e":0.3},{"s":"DD","t":1.3,"e":1.65},{"s":"DD","t":1.4,"e":-0.3},{"s":"DD","t":1.5,"e":2.55},{"s":"DD","t":1.6,"e":0.45},{"s":"DD","t":1.7,"e":1.35},{"s":"DD","t":1.8,"e":-0.45},{"s":"DD","t":1.9,"e":0.9},{"s":"DD","t":2,"e":0.15},{"s":"DD","t":2.1,"e":1.8},{"s":"DD","t":2.2,"e":-0.75},{"s":"DD","t":2.3,"e":1.2},{"s":"DD","t":2.4,"e":0.75},{"s":"DD","t":2.5,"e":-0.3},{"s":"DD","t":2.6,"e":1.5},{"s":"DD","t":2.7,"e":-0.6},{"s":"DD","t":2.8,"e":-0.15},{"s":"DD","t":2.9,"e":0.9},{"s":"DD","t":3,"e":-1.2},{"s":"DD","t":3.1,"e":0.45},{"s":"DD","t":3.2,"e":-0.75},{"s":"DD","t":3.3,"e":1.35},{"s":"DD","t":3.4,"e":-0.3},{"s":"DD","t":3.5,"e":-1.5},{"s":"DD","t":3.6,"e":1.05},{"s":"DD","t":3.7,"e":0},{"s":"DD","t":3.8,"e":-0.9},{"s":"DD","t":3.9,"e":0.75},{"s":"DD","t":4,"e":-0.45},
{"s":"DD","t":4.1,"e":1.2},{"s":"DD","t":4.2,"e":-1.35},{"s":"DD","t":4.3,"e":0.3},{"s":"DD","t":4.4,"e":0.9},{"s":"DD","t":4.5,"e":-1.05},{"s":"DD","t":4.6,"e":0.6},{"s":"DD","t":4.7,"e":-0.3},{"s":"DD","t":4.8,"e":-1.5},{"s":"DD","t":4.9,"e":1.35},{"s":"DD","t":5,"e":0.15},{"s":"DD","t":5.1,"e":-0.75},{"s":"DD","t":5.2,"e":1.05},{"s":"DD","t":5.3,"e":-1.2},{"s":"DD","t":5.4,"e":0.45},{"s":"DD","t":5.5,"e":-0.15},{"s":"DD","t":5.6,"e":1.5},{"s":"DD","t":5.7,"e":-0.9},{"s":"DD","t":5.8,"e":0.75},{"s":"DD","t":5.9,"e":-1.35},{"s":"DD","t":6,"e":0.3},{"s":"DD","t":6.1,"e":-0.45},{"s":"DD","t":6.2,"e":1.2},{"s":"DD","t":6.3,"e":-1.05},{"s":"DD","t":6.4,"e":0},{"s":"DD","t":6.5,"e":0.9},{"s":"DD","t":6.6,"e":-1.5},{"s":"DD","t":6.7,"e":0.6},{"s":"DD","t":6.8,"e":-0.6},{"s":"DD","t":6.9,"e":1.35},{"s":"DD","t":7,"e":-0.9},
{"s":"DD","t":7.1,"e":0.45},{"s":"DD","t":7.2,"e":0.6},{"s":"DD","t":7.3,"e":-1.05},{"s":"DD","t":7.4,"e":1.35},{"s":"DD","t":7.5,"e":-0.45},{"s":"DD","t":7.6,"e":0.3},{"s":"DD","t":7.7,"e":-1.5},{"s":"DD","t":7.8,"e":0.9},{"s":"DD","t":7.9,"e":0.15},{"s":"DD","t":8,"e":-0.75},{"s":"DD","t":8.1,"e":1.2},{"s":"DD","t":8.2,"e":-0.3},{"s":"DD","t":8.3,"e":-1.2},{"s":"DD","t":8.4,"e":0.75},{"s":"DD","t":8.5,"e":1.5},{"s":"DD","t":8.6,"e":-0.6},{"s":"DD","t":8.7,"e":0},{"s":"DD","t":8.8,"e":-1.35},{"s":"DD","t":8.9,"e":1.05},{"s":"DD","t":9,"e":-0.15},{"s":"DD","t":9.1,"e":0.6},{"s":"DD","t":9.2,"e":-0.9},{"s":"DD","t":9.3,"e":1.35},{"s":"DD","t":9.4,"e":-0.45},{"s":"DD","t":9.5,"e":-1.05},{"s":"DD","t":9.6,"e":0.9},{"s":"DD","t":9.7,"e":0.3},{"s":"DD","t":9.8,"e":-1.5},{"s":"DD","t":9.9,"e":1.2},{"s":"DD","t":10,"e":-0.3},
{"s":"DD","t":10.1,"e":0.75},{"s":"DD","t":10.2,"e":-0.75},{"s":"DD","t":10.3,"e":0.45},{"s":"DD","t":10.4,"e":1.5},{"s":"DD","t":10.5,"e":-1.2},{"s":"DD","t":10.6,"e":0.15},{"s":"DD","t":10.7,"e":-0.6},{"s":"DD","t":10.8,"e":1.05},{"s":"DD","t":10.9,"e":-1.35},{"s":"DD","t":11,"e":0.6},{"s":"DD","t":11.1,"e":0},{"s":"DD","t":11.2,"e":-0.9},{"s":"DD","t":11.3,"e":1.35},{"s":"DD","t":11.4,"e":-0.15},{"s":"DD","t":11.5,"e":-1.05},{"s":"DD","t":11.6,"e":0.9},{"s":"DD","t":11.7,"e":0.45},{"s":"DD","t":11.8,"e":-1.5},{"s":"DD","t":11.9,"e":0.75},{"s":"DD","t":12,"e":-0.45},{"s":"DD","t":12.1,"e":1.2},{"s":"DD","t":12.2,"e":-0.75},{"s":"DD","t":12.3,"e":0.3},{"s":"DD","t":12.4,"e":-4.5},{"s":"DD","t":12.5,"e":1.5},{"s":"DD","t":12.6,"e":-0.3},{"s":"DD","t":12.7,"e":0.6},{"s":"DD","t":12.8,"e":-1.35},{"s":"DD","t":12.9,"e":0.9},{"s":"DD","t":13,"e":0},
{"s":"DD","t":13.1,"e":-0.6},{"s":"DD","t":13.2,"e":0.45},{"s":"DD","t":13.3,"e":-0.15},{"s":"DD","t":13.4,"e":1.5},{"s":"DD","t":13.5,"e":-0.9},{"s":"DD","t":13.6,"e":0.75},{"s":"DD","t":13.7,"e":-1.35},{"s":"DD","t":13.8,"e":0.3},{"s":"DD","t":13.9,"e":-0.45},{"s":"DD","t":14,"e":1.2},{"s":"DD","t":14.1,"e":-1.05},{"s":"DD","t":14.2,"e":0},{"s":"DD","t":14.3,"e":0.9},{"s":"DD","t":14.4,"e":-1.5},{"s":"DD","t":14.5,"e":0.6},{"s":"DD","t":14.6,"e":-0.6},{"s":"DD","t":14.7,"e":1.35},{"s":"DD","t":14.8,"e":-0.9},{"s":"DD","t":14.9,"e":0.45},{"s":"DD","t":15,"e":0.6},{"s":"DD","t":15.1,"e":-1.05},{"s":"DD","t":15.2,"e":1.35},{"s":"DD","t":15.3,"e":-0.45},{"s":"DD","t":15.4,"e":0.3},{"s":"DD","t":15.5,"e":-1.5},{"s":"DD","t":15.6,"e":0.9},{"s":"DD","t":15.7,"e":0.15},{"s":"DD","t":15.8,"e":-0.75},{"s":"DD","t":15.9,"e":1.2},{"s":"DD","t":16,"e":-0.3},
{"s":"DD","t":16.1,"e":-0.7},{"s":"DD","t":16.2,"e":1.25},{"s":"DD","t":16.3,"e":2},{"s":"DD","t":16.4,"e":-0.1},{"s":"DD","t":16.5,"e":0.5},{"s":"DD","t":16.6,"e":-0.85},{"s":"DD","t":16.7,"e":1.55},{"s":"DD","t":16.8,"e":0.35},{"s":"DD","t":16.9,"e":1.1},{"s":"DD","t":17,"e":-0.4},{"s":"DD","t":17.1,"e":1.85},{"s":"DD","t":17.2,"e":0.05},{"s":"DD","t":17.3,"e":-0.55},{"s":"DD","t":17.4,"e":1.4},{"s":"DD","t":17.5,"e":0.8},{"s":"DD","t":17.6,"e":-1},{"s":"DD","t":17.7,"e":1.7},{"s":"DD","t":17.8,"e":0.2},{"s":"DD","t":17.9,"e":1.25},{"s":"DD","t":18,"e":-0.25},{"s":"DD","t":18.1,"e":1.25},{"s":"DD","t":18.2,"e":2.3},{"s":"DD","t":18.3,"e":-0.4},{"s":"DD","t":18.4,"e":0.95},{"s":"DD","t":18.5,"e":0.2},{"s":"DD","t":18.6,"e":1.85},{"s":"DD","t":18.7,"e":-0.55},{"s":"DD","t":18.8,"e":1.4},{"s":"DD","t":18.9,"e":0.8},{"s":"DD","t":19,"e":-0.1},{"s":"DD","t":19.1,"e":2.15},{"s":"DD","t":19.2,"e":0.65},{"s":"DD","t":19.3,"e":-0.25},{"s":"DD","t":19.4,"e":1.7},{"s":"DD","t":19.5,"e":1.25},{"s":"DD","t":19.6,"e":-0.7},{"s":"DD","t":19.7,"e":1.55},{"s":"DD","t":19.8,"e":0.35},{"s":"DD","t":19.9,"e":2},{"s":"DD","t":20,"e":0.05},
{"s":"AA","t":-0.55,"e":-0.4},{"s":"AA","t":-0.5,"e":0.9},{"s":"AA","t":-0.45,"e":-1.1},{"s":"AA","t":-0.4,"e":0.4},{"s":"AA","t":-0.35,"e":-0.9},{"s":"AA","t":-0.3,"e":1.2},{"s":"AA","t":-0.25,"e":-1.3},{"s":"AA","t":-0.2,"e":0.1},{"s":"AA","t":-0.15,"e":1},{"s":"AA","t":-0.1,"e":5.5},{"s":"AA","t":-0.05,"e":11},{"s":"AA","t":0,"e":16.8},{"s":"AA","t":0.03,"e":18.5},{"s":"AA","t":0.06,"e":13.5},{"s":"AA","t":0.09,"e":4.5},{"s":"AA","t":0.12,"e":-4.5},{"s":"AA","t":0.15,"e":-10},{"s":"AA","t":0.18,"e":-11.2},{"s":"AA","t":0.21,"e":-8.2},{"s":"AA","t":0.25,"e":-3.2},{"s":"AA","t":0.3,"e":0.8},{"s":"AA","t":0.35,"e":2.6},{"s":"AA","t":0.4,"e":3.6},{"s":"AA","t":0.45,"e":3},{"s":"AA","t":0.5,"e":3.9},{"s":"AA","t":0.55,"e":2.4},{"s":"AA","t":0.6,"e":3.2},{"s":"AA","t":0.7,"e":2},{"s":"AA","t":0.8,"e":2.8},{"s":"AA","t":0.9,"e":1.4},{"s":"AA","t":1,"e":2.2},
{"s":"AA","t":1.1,"e":0.25},{"s":"AA","t":1.2,"e":1.45},{"s":"AA","t":1.3,"e":2.5},{"s":"AA","t":1.4,"e":-0.2},{"s":"AA","t":1.5,"e":1.15},{"s":"AA","t":1.6,"e":-0.1},{"s":"AA","t":1.7,"e":1.55},{"s":"AA","t":1.8,"e":-0.85},{"s":"AA","t":1.9,"e":1.1},{"s":"AA","t":2,"e":0.5},{"s":"AA","t":2.1,"e":-0.4},{"s":"AA","t":2.2,"e":1.85},{"s":"AA","t":2.3,"e":0.35},{"s":"AA","t":2.4,"e":-0.55},{"s":"AA","t":2.5,"e":1.4},{"s":"AA","t":2.6,"e":0.45},{"s":"AA","t":2.7,"e":-1.5},{"s":"AA","t":2.8,"e":0.75},{"s":"AA","t":2.9,"e":-0.45},{"s":"AA","t":3,"e":1.2},{"s":"AA","t":3.1,"e":-0.75},{"s":"AA","t":3.2,"e":0.3},{"s":"AA","t":3.3,"e":-1.2},{"s":"AA","t":3.4,"e":1.5},{"s":"AA","t":3.5,"e":-0.3},{"s":"AA","t":3.6,"e":0.6},{"s":"AA","t":3.7,"e":-1.35},{"s":"AA","t":3.8,"e":0.9},{"s":"AA","t":3.9,"e":0},{"s":"AA","t":4,"e":-0.6},
{"s":"AA","t":4.1,"e":1.05},{"s":"AA","t":4.2,"e":-0.9},{"s":"AA","t":4.3,"e":0.45},{"s":"AA","t":4.4,"e":-1.5},{"s":"AA","t":4.5,"e":1.35},{"s":"AA","t":4.6,"e":-0.15},{"s":"AA","t":4.7,"e":0.75},{"s":"AA","t":4.8,"e":-1.05},{"s":"AA","t":4.9,"e":0.3},{"s":"AA","t":5,"e":-0.45},{"s":"AA","t":5.1,"e":1.2},{"s":"AA","t":5.2,"e":-1.35},{"s":"AA","t":5.3,"e":0.6},{"s":"AA","t":5.4,"e":0.15},{"s":"AA","t":5.5,"e":-0.9},{"s":"AA","t":5.6,"e":1.5},{"s":"AA","t":5.7,"e":-0.6},{"s":"AA","t":5.8,"e":-0.15},{"s":"AA","t":5.9,"e":0.9},{"s":"AA","t":6,"e":-1.2},{"s":"AA","t":6.1,"e":0.45},{"s":"AA","t":6.2,"e":-0.75},{"s":"AA","t":6.3,"e":1.35},{"s":"AA","t":6.4,"e":-0.3},{"s":"AA","t":6.5,"e":-1.5},{"s":"AA","t":6.6,"e":1.05},{"s":"AA","t":6.7,"e":0},{"s":"AA","t":6.8,"e":-0.9},{"s":"AA","t":6.9,"e":0.75},{"s":"AA","t":7,"e":-0.45},
{"s":"AA","t":7.1,"e":1.2},{"s":"AA","t":7.2,"e":-1.35},{"s":"AA","t":7.3,"e":0.3},{"s":"AA","t":7.4,"e":0.9},{"s":"AA","t":7.5,"e":-1.05},{"s":"AA","t":7.6,"e":0.6},{"s":"AA","t":7.7,"e":-0.3},{"s":"AA","t":7.8,"e":-1.5},{"s":"AA","t":7.9,"e":1.35},{"s":"AA","t":8,"e":0.15},{"s":"AA","t":8.1,"e":-0.75},{"s":"AA","t":8.2,"e":1.05},{"s":"AA","t":8.3,"e":-1.2},{"s":"AA","t":8.4,"e":0.45},{"s":"AA","t":8.5,"e":-0.15},{"s":"AA","t":8.6,"e":1.5},{"s":"AA","t":8.7,"e":-0.9},{"s":"AA","t":8.8,"e":0.75},{"s":"AA","t":8.9,"e":-1.35},{"s":"AA","t":9,"e":0.3},{"s":"AA","t":9.1,"e":-0.45},{"s":"AA","t":9.2,"e":1.2},{"s":"AA","t":9.3,"e":-1.05},{"s":"AA","t":9.4,"e":0},{"s":"AA","t":9.5,"e":0.9},{"s":"AA","t":9.6,"e":-1.5},{"s":"AA","t":9.7,"e":0.6},{"s":"AA","t":9.8,"e":-0.6},{"s":"AA","t":9.9,"e":1.35},{"s":"AA","t":10,"e":-0.9},
{"s":"AA","t":10.1,"e":0.45},{"s":"AA","t":10.2,"e":0.6},{"s":"AA","t":10.3,"e":-1.05},{"s":"AA","t":10.4,"e":1.35},{"s":"AA","t":10.5,"e":-0.45},{"s":"AA","t":10.6,"e":0.3},{"s":"AA","t":10.7,"e":-1.5},{"s":"AA","t":10.8,"e":0.9},{"s":"AA","t":10.9,"e":0.15},{"s":"AA","t":11,"e":-0.75},{"s":"AA","t":11.1,"e":1.2},{"s":"AA","t":11.2,"e":-0.3},{"s":"AA","t":11.3,"e":-1.2},{"s":"AA","t":11.4,"e":0.75},{"s":"AA","t":11.5,"e":1.5},{"s":"AA","t":11.6,"e":-0.6},{"s":"AA","t":11.7,"e":0},{"s":"AA","t":11.8,"e":-1.35},{"s":"AA","t":11.9,"e":1.05},{"s":"AA","t":12,"e":-0.15},{"s":"AA","t":12.1,"e":0.6},{"s":"AA","t":12.2,"e":-0.9},{"s":"AA","t":12.3,"e":1.35},{"s":"AA","t":12.4,"e":-3.5},{"s":"AA","t":12.5,"e":-1.05},{"s":"AA","t":12.6,"e":0.9},{"s":"AA","t":12.7,"e":0.3},{"s":"AA","t":12.8,"e":-1.5},{"s":"AA","t":12.9,"e":1.2},{"s":"AA","t":13,"e":-0.3},
{"s":"AA","t":13.1,"e":0.75},{"s":"AA","t":13.2,"e":1.05},{"s":"AA","t":13.3,"e":0},{"s":"AA","t":13.4,"e":-0.9},{"s":"AA","t":13.5,"e":0.75},{"s":"AA","t":13.6,"e":-0.45},{"s":"AA","t":13.7,"e":1.2},{"s":"AA","t":13.8,"e":-1.35},{"s":"AA","t":13.9,"e":0.3},{"s":"AA","t":14,"e":0.9},{"s":"AA","t":14.1,"e":-1.05},{"s":"AA","t":14.2,"e":0.6},{"s":"AA","t":14.3,"e":-0.3},{"s":"AA","t":14.4,"e":-1.5},{"s":"AA","t":14.5,"e":1.35},{"s":"AA","t":14.6,"e":0.15},{"s":"AA","t":14.7,"e":-0.75},{"s":"AA","t":14.8,"e":1.05},{"s":"AA","t":14.9,"e":-1.2},{"s":"AA","t":15,"e":0.45},{"s":"AA","t":15.1,"e":-0.15},{"s":"AA","t":15.2,"e":1.5},{"s":"AA","t":15.3,"e":-0.9},{"s":"AA","t":15.4,"e":0.75},{"s":"AA","t":15.5,"e":-1.35},{"s":"AA","t":15.6,"e":0.3},{"s":"AA","t":15.7,"e":-0.45},{"s":"AA","t":15.8,"e":1.2},{"s":"AA","t":15.9,"e":-1.05},{"s":"AA","t":16,"e":0},
{"s":"AA","t":16.1,"e":1.5},{"s":"AA","t":16.2,"e":-0.9},{"s":"AA","t":16.3,"e":1.2},{"s":"AA","t":16.4,"e":0},{"s":"AA","t":16.5,"e":1.95},{"s":"AA","t":16.6,"e":-0.3},{"s":"AA","t":16.7,"e":1.05},{"s":"AA","t":16.8,"e":1.2},{"s":"AA","t":16.9,"e":-0.45},{"s":"AA","t":17,"e":1.95},{"s":"AA","t":17.1,"e":0.15},{"s":"AA","t":17.2,"e":0.9},{"s":"AA","t":17.3,"e":-0.9},{"s":"AA","t":17.4,"e":1.5},{"s":"AA","t":17.5,"e":0.75},{"s":"AA","t":17.6,"e":-0.15},{"s":"AA","t":17.7,"e":1.8},{"s":"AA","t":17.8,"e":0.3},{"s":"AA","t":17.9,"e":-0.6},{"s":"AA","t":18,"e":1.35},{"s":"AA","t":18.1,"e":2.1},{"s":"AA","t":18.2,"e":0},{"s":"AA","t":18.3,"e":0.6},{"s":"AA","t":18.4,"e":-0.75},{"s":"AA","t":18.5,"e":1.65},{"s":"AA","t":18.6,"e":0.45},{"s":"AA","t":18.7,"e":1.2},{"s":"AA","t":18.8,"e":-0.3},{"s":"AA","t":18.9,"e":1.95},{"s":"AA","t":19,"e":0.15},{"s":"AA","t":19.1,"e":-0.45},{"s":"AA","t":19.2,"e":1.5},{"s":"AA","t":19.3,"e":0.9},{"s":"AA","t":19.4,"e":-0.9},{"s":"AA","t":19.5,"e":1.8},{"s":"AA","t":19.6,"e":0.3},{"s":"AA","t":19.7,"e":1.35},{"s":"AA","t":19.8,"e":-0.15},{"s":"AA","t":19.9,"e":1.05},{"s":"AA","t":20,"e":2.1}
]
},
"hconcat":[
{
"width":492,"height":400,
"layer":[
{"data":{"name":"raw"},"mark":{"type":"line","strokeWidth":1.2,"clip":true},
"encoding":{
"x":{"field":"t","type":"quantitative","scale":{"domain":[-0.67,20],"nice":false,"zero":false},"axis":{"orient":"bottom","title":"Time, ns","values":[0,5,10,15,20],"labelPadding":5,"minExtent":17,"maxExtent":17,"titlePadding":7}},
"y":{"field":"v","type":"quantitative","scale":{"type":"log","domain":[6.945,14678],"nice":false},"axis":{"orient":"left","title":"Counts","values":[7,8,9,10,20,30,40,50,60,70,80,90,100,200,300,400,500,600,700,800,900,1000,2000,3000,4000,5000,6000,7000,8000,9000,10000],"labelExpr":"datum.value == 10 ? '10¹' : datum.value == 100 ? '10²' : datum.value == 1000 ? '10³' : datum.value == 10000 ? '10⁴' : ''","labelPadding":8,"minExtent":32,"maxExtent":32,"titlePadding":8}},
"color":{"field":"s","type":"nominal","scale":{"domain":["DA","DD","AA","IRF"],"range":["#8c8cff","#ff8c8c","#8cf08c","#4a4a4a"]},"legend":{"legendX":287,"legendY":15,"labelOffset":2,"labelExpr":"datum.label == 'IRF' ? 'IRF' : datum.label == 'AA' ? 'AA (567 nm detection)' : datum.label + ' (527 nm detection)'"}}
}},
{"data":{"name":"fit"},"mark":{"type":"line","strokeWidth":3.3,"clip":true},
"encoding":{
"x":{"field":"t","type":"quantitative","axis":null},
"y":{"field":"v","type":"quantitative","axis":null},
"color":{"field":"s","type":"nominal","scale":{"domain":["DA","DD","AA"],"range":["#0000ff","#ff0000","#00a800"]},"legend":null}
}},
{"data":{"name":"fit"},"mark":{"type":"line","opacity":0},
"encoding":{
"x":{"field":"t","type":"quantitative","axis":{"orient":"top","labels":false,"title":null,"values":[0,5,10,15,20]}},
"y":{"field":"v","type":"quantitative","axis":{"orient":"right","labels":false,"title":null,"values":[7,8,9,10,20,30,40,50,60,70,80,90,100,200,300,400,500,600,700,800,900,1000,2000,3000,4000,5000,6000,7000,8000,9000,10000]}},
"detail":{"field":"s"}
}}
],
"resolve":{"scale":{"color":"independent"},"axis":{"x":"independent","y":"independent"}}
},
{
"vconcat":[
{
"width":504,"height":122,
"layer":[
{"data":{"name":"res"},"transform":[{"filter":"datum.s == 'DA'"}],"mark":{"type":"line","strokeWidth":1,"clip":true},
"encoding":{
"x":{"field":"t","type":"quantitative","scale":{"domain":[-0.57,20],"nice":false,"zero":false},"axis":{"orient":"bottom","values":[0,5,10,15,20],"labels":false,"title":null}},
"y":{"field":"e","type":"quantitative","scale":{"domain":[-22,22],"nice":false},"axis":{"orient":"left","values":[-20,0,20],"title":"Fit error","labelPadding":15,"minExtent":39,"maxExtent":39,"titlePadding":0}},
"color":{"field":"s","type":"nominal","scale":{"domain":["DA"],"range":["#0000ff"]},"legend":{"legendX":448,"legendY":12,"labelOffset":0}}
}},
{"data":{"name":"res"},"transform":[{"filter":"datum.s == 'DA'"}],"mark":{"type":"line","opacity":0},
"encoding":{
"x":{"field":"t","type":"quantitative","axis":{"orient":"top","values":[0,5,10,15,20],"labels":false,"title":null}},
"y":{"field":"e","type":"quantitative","axis":{"orient":"right","values":[-20,0,20],"labels":false,"title":null}}
}}
],
"resolve":{"axis":{"x":"independent","y":"independent"}}
},
{
"width":504,"height":122,
"layer":[
{"data":{"name":"res"},"transform":[{"filter":"datum.s == 'DD'"}],"mark":{"type":"line","strokeWidth":1,"clip":true},
"encoding":{
"x":{"field":"t","type":"quantitative","scale":{"domain":[-0.57,20],"nice":false,"zero":false},"axis":{"orient":"bottom","values":[0,5,10,15,20],"labels":false,"title":null}},
"y":{"field":"e","type":"quantitative","scale":{"domain":[-22,22],"nice":false},"axis":{"orient":"left","values":[-20,0,20],"title":"Fit error","labelPadding":15,"minExtent":39,"maxExtent":39,"titlePadding":0}},
"color":{"field":"s","type":"nominal","scale":{"domain":["DD"],"range":["#ff0000"]},"legend":{"legendX":448,"legendY":15,"labelOffset":0}}
}},
{"data":{"name":"res"},"transform":[{"filter":"datum.s == 'DD'"}],"mark":{"type":"line","opacity":0},
"encoding":{
"x":{"field":"t","type":"quantitative","axis":{"orient":"top","values":[0,5,10,15,20],"labels":false,"title":null}},
"y":{"field":"e","type":"quantitative","axis":{"orient":"right","values":[-20,0,20],"labels":false,"title":null}}
}}
],
"resolve":{"axis":{"x":"independent","y":"independent"}}
},
{
"width":504,"height":122,
"layer":[
{"data":{"name":"res"},"transform":[{"filter":"datum.s == 'AA'"}],"mark":{"type":"line","strokeWidth":1,"clip":true},
"encoding":{
"x":{"field":"t","type":"quantitative","scale":{"domain":[-0.57,20],"nice":false,"zero":false},"axis":{"orient":"bottom","values":[0,5,10,15,20],"title":"Time, ns","labelPadding":5,"minExtent":17,"maxExtent":17,"titlePadding":11}},
"y":{"field":"e","type":"quantitative","scale":{"domain":[-22,22],"nice":false},"axis":{"orient":"left","values":[-20,0,20],"title":"Fit error","labelPadding":15,"minExtent":39,"maxExtent":39,"titlePadding":0}},
"color":{"field":"s","type":"nominal","scale":{"domain":["AA"],"range":["#00aa00"]},"legend":{"legendX":448,"legendY":16.5,"labelOffset":0}}
}},
{"data":{"name":"res"},"transform":[{"filter":"datum.s == 'AA'"}],"mark":{"type":"line","opacity":0},
"encoding":{
"x":{"field":"t","type":"quantitative","axis":{"orient":"top","values":[0,5,10,15,20],"labels":false,"title":null}},
"y":{"field":"e","type":"quantitative","axis":{"orient":"right","values":[-20,0,20],"labels":false,"title":null}}
}}
],
"resolve":{"axis":{"x":"independent","y":"independent"}}
}
],
"spacing":8,
"resolve":{"scale":{"color":"independent"}}
}
],
"spacing":33,
"resolve":{"scale":{"x":"independent","y":"independent","color":"independent"}}
}
